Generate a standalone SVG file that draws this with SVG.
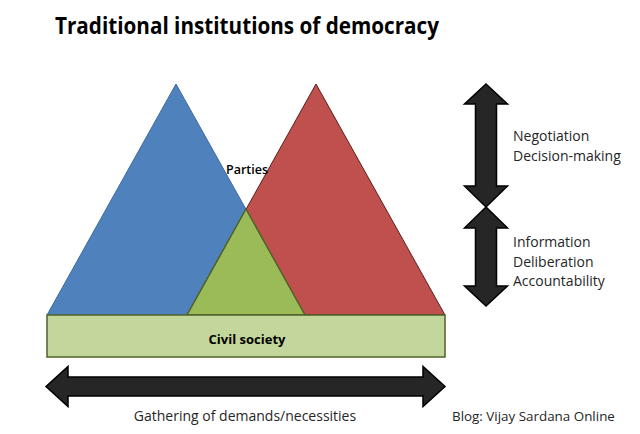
<svg xmlns="http://www.w3.org/2000/svg" width="640" height="434" viewBox="0 0 640 434">
<style>
text{font-family:"Open Sans","Liberation Sans",sans-serif;fill:#1a1a1a}
.lbl{font-size:14px;fill:#262626}
.arr{fill:#262626;stroke:#000;stroke-width:1.5;stroke-linejoin:miter}
</style>
<rect width="640" height="434" fill="#fff"/>
<text x="247" y="34" text-anchor="middle" font-size="24" font-weight="bold" textLength="384" lengthAdjust="spacingAndGlyphs" style="fill:#000">Traditional institutions of democracy</text>
<g id="blue-triangle"><polygon points="176,84 305,315 47,315" fill="#4f81bd" stroke="#3b6aa1" stroke-width="1"/></g>
<g id="red-triangle"><polygon points="316,84 445,315 187,315" fill="#c0504d" stroke="#5a1f1d" stroke-width="1"/></g>
<g id="green-triangle"><polygon points="246,209 305,315 187,315" fill="#9bbb59" stroke="#4f6228" stroke-width="1.5"/></g>
<g id="parties"><text x="247" y="174" text-anchor="middle" font-size="12.5" font-weight="600" style="fill:#000">Parties</text></g>
<g id="civil-society"><rect x="47" y="315" width="398" height="42" fill="#c3d69b" stroke="#4f6228" stroke-width="1.5"/>
<text x="247" y="344" text-anchor="middle" font-size="13" font-weight="bold" style="fill:#000">Civil society</text></g>
<g id="connectors">
<polygon class="arr" points="486,84 507.5,104 496.5,104 496.5,186 507.5,186 486,207 464.5,186 475.5,186 475.5,104 464.5,104"/>
<polygon class="arr" points="486,207 507.5,228 496.5,228 496.5,286 507.5,286 486,306 464.5,286 475.5,286 475.5,228 464.5,228"/>
<polygon class="arr" points="46,386.5 68,366.5 68,377 423,377 423,366.5 445,386.5 423,406.5 423,396 68,396 68,406.5"/>
</g>
<g id="labels">
<text class="lbl" x="513" y="141">Negotiation</text>
<text class="lbl" x="513" y="160.5">Decision-making</text>
<text class="lbl" x="513" y="247">Information</text>
<text class="lbl" x="513" y="266.5">Deliberation</text>
<text class="lbl" x="513" y="286">Accountability</text>
<text class="lbl" x="245" y="421" text-anchor="middle">Gathering of demands/necessities</text>
<text class="lbl" x="452" y="421" style="font-size:13.4px">Blog: Vijay Sardana Online</text>
</g>
</svg>
